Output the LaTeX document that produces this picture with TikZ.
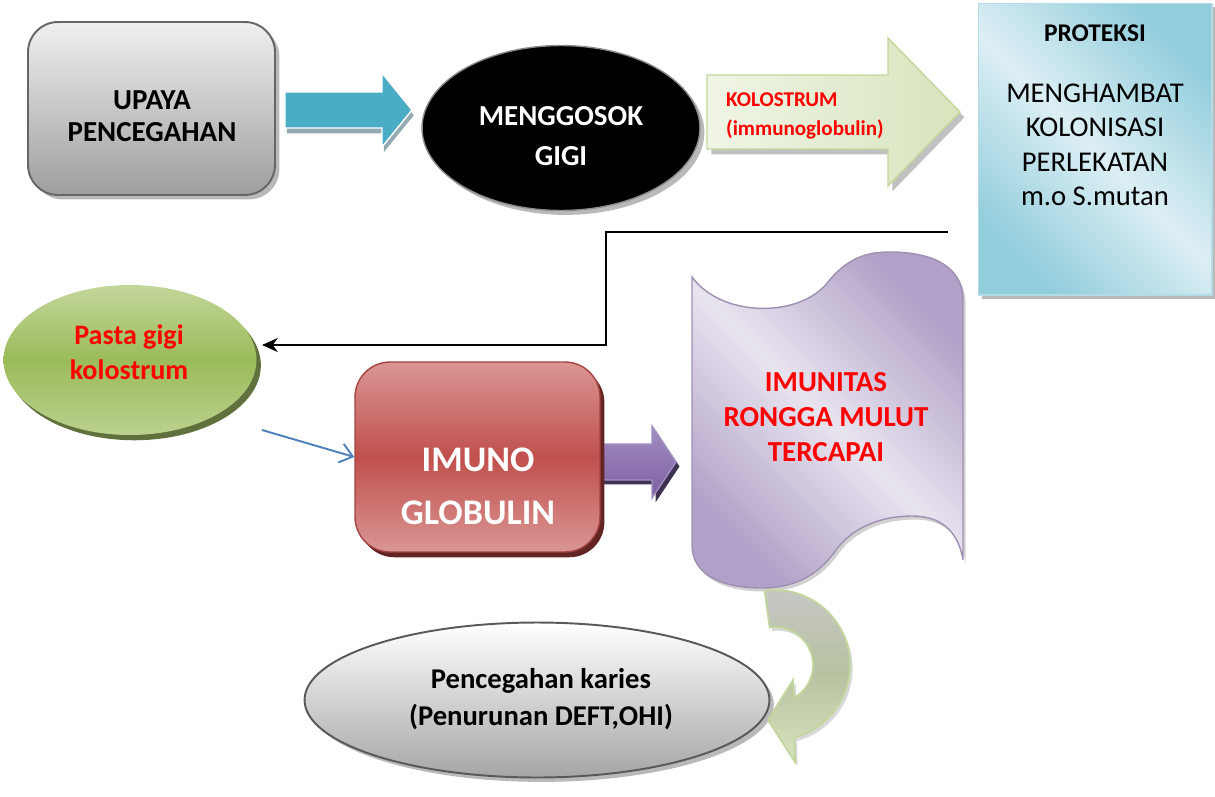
\documentclass[tikz,border=0pt]{standalone}
\usepackage{fontspec}
\setmainfont{Carlito}
\usetikzlibrary{shapes.geometric,shadows,arrows.meta}

\definecolor{tealarr}{HTML}{4BACC6}
\definecolor{tealshd}{HTML}{93AAB3}
\definecolor{grnpale}{HTML}{F0F5E6}
\definecolor{grnlight}{HTML}{D7E4BD}
\definecolor{grnline}{HTML}{C3D69B}
\definecolor{grnmid}{HTML}{9BBB59}
\definecolor{grndark}{HTML}{4F6228}
\definecolor{aqualight}{HTML}{DCEFF4}
\definecolor{aquadark}{HTML}{92CDDC}
\definecolor{redlight}{HTML}{DA9694}
\definecolor{redmid}{HTML}{C0504D}
\definecolor{reddark}{HTML}{632523}
\definecolor{purmid}{HTML}{7D5FA0}
\definecolor{purlight}{HTML}{A28FC2}
\definecolor{purdark}{HTML}{3F3151}
\definecolor{lavlight}{HTML}{E8E4EF}
\definecolor{lavdark}{HTML}{B1A0C7}
\definecolor{linkblue}{HTML}{4F81BD}

\begin{document}
\begin{tikzpicture}[
        x=0.02cm, y=-0.02cm,
        txt/.style     ={font=\bfseries\fontsize{16}{18}\selectfont, align=center},
        shdw/.style    ={drop shadow={shadow xshift=2.5pt, shadow yshift=-2.5pt, fill=black!50, opacity=.55}},
        upbox/.style   ={draw=black!60, line width=1.1pt, rounded corners=0.6cm, top color=black!6, bottom color=black!38, shdw},
        oval/.style    ={ellipse, inner sep=0pt},
        blockarr/.style={line width=0.8pt, line join=miter},
        link/.style    ={-{Stealth[length=9pt,width=8pt]}, line width=1.2pt}
    ]
    \useasboundingbox (0,0) rectangle (1215,796);

    %-----------------  Baris atas  --------------------
    \node[upbox, minimum width=4.94cm, minimum height=3.46cm] (upaya) at (151.5,108.5) {};
    \node[txt, font=\bfseries\fontsize{16.5}{18}\selectfont] (upayatxt) at (152,116) {UPAYA\\PENCEGAHAN};

    % panah biru
    \path[blockarr, draw=white, fill=tealarr, drop shadow={shadow xshift=1pt, shadow yshift=-3pt, fill=tealshd, opacity=1}]
        (285,92) -- (382,92) -- (382,73) -- (412,110) -- (382,147) -- (382,128) -- (285,128) -- cycle;

    \node[oval, fill=black, draw=black!45, line width=0.8pt, shdw, minimum width=5.56cm, minimum height=3.3cm] (gosok) at (561,128) {};
    \node[txt, text=white, font=\bfseries\fontsize{16.5}{22.5}\selectfont] (gosoktxt) at (561,136) {MENGGOSOK\\GIGI};

    % panah hijau berisi teks
    \path[blockarr, draw=grnline, left color=grnpale, right color=grnlight, drop shadow={shadow xshift=2.5pt, shadow yshift=-3pt, fill=black!35, opacity=.7}]
        (707,75) -- (888,75) -- (888,38) -- (960,112) -- (888,186) -- (888,149) -- (707,149) -- cycle;
    \node[font=\bfseries\fontsize{12}{17}\selectfont, text=red, align=left, anchor=north west] (kolos) at (720,86) {KOLOSTRUM\\(immunoglobulin)};

    %-----------------  Kotak proteksi  --------------------
    \node[draw=aquadark!70, line width=0.6pt, shading=axis, top color=aquadark, bottom color=aquadark, middle color=aqualight,
          shading angle=-45, shdw, minimum width=4.68cm, minimum height=5.84cm] (proteksi) at (1095,149) {};
    \node[font=\bfseries\fontsize{14.5}{17}\selectfont] (protitle) at (1095,33) {PROTEKSI};
    \node[font=\fontsize{16.3}{19.6}\selectfont, align=center] (protext) at (1095,145) {MENGHAMBAT\\KOLONISASI\\PERLEKATAN\\m.o S.mutan};

    % garis hitam ke pasta gigi
    \coordinate (lnA) at (948,232);
    \coordinate (lnB) at (262,345);
    \draw[link] (lnA) -| (606,345) -- (lnB);

    %-----------------  Baris tengah  --------------------
    \node[oval, top color=grnline, bottom color=grnline!80!grnmid, middle color=grnmid,
          drop shadow={shadow xshift=2.5pt, shadow yshift=-3pt, fill=grndark, opacity=.9},
          minimum width=5.06cm, minimum height=3.0cm] (pasta) at (130,360) {};
    \node[txt, text=red, font=\bfseries\fontsize{16}{20}\selectfont] (pastatxt) at (129,352) {Pasta gigi\\kolostrum};

    % panah ungu
    \path[blockarr, draw=purlight, top color=purlight, bottom color=purmid, drop shadow={shadow xshift=2pt, shadow yshift=-2.5pt, fill=purdark, opacity=1}]
        (595,444) -- (652,444) -- (652,426) -- (676,462) -- (652,498) -- (652,480) -- (595,480) -- cycle;

    \node[rounded corners=0.7cm, draw=redmid!85!black, line width=0.8pt, top color=redlight, bottom color=redlight, middle color=redmid,
          drop shadow={shadow xshift=2.5pt, shadow yshift=-3pt, fill=reddark, opacity=1},
          minimum width=4.9cm, minimum height=3.8cm] (imuno) at (477.5,457) {};
    \node[txt, text=white, font=\bfseries\fontsize{20.5}{30}\selectfont] (imunotxt) at (478,486) {IMUNO\\GLOBULIN};

    \coordinate (bl) at (262,430);
    \draw[-{Straight Barb[length=7pt,width=11pt]}, linkblue, line width=1.1pt] (bl) -- (imuno.west);

    % bentuk gelombang
    \path[draw=lavdark!90!black, line width=0.8pt, shading=axis, top color=lavdark, bottom color=lavdark, middle color=lavlight, shading angle=-45,
          drop shadow={shadow xshift=1.5pt, shadow yshift=-2pt, fill=black!30, opacity=.6}]
        (692,277) .. controls (722,318) and (800,318) .. (828,282)
        .. controls (848,257) and (868,252) .. (890,252)
        .. controls (935,252) and (963,268) .. (963,300) -- (963,560)
        .. controls (958,530) and (940,516) .. (912,516)
        .. controls (880,516) and (852,528) .. (836,550)
        .. controls (815,580) and (788,588) .. (762,588)
        .. controls (722,588) and (692,575) .. (692,545) -- cycle;
    \node[txt, text=red, font=\bfseries\fontsize{16.5}{20}\selectfont] (imun) at (826,417) {IMUNITAS\\RONGGA MULUT\\TERCAPAI};

    %-----------------  Baris bawah  --------------------
    \node[oval, draw=black!65, line width=1.1pt, top color=white, bottom color=black!35, shdw,
          minimum width=9.3cm, minimum height=3.1cm] (karies) at (537,700) {};
    \node[txt, font=\bfseries\fontsize{16.3}{21}\selectfont] (kariestxt) at (541,699) {Pencegahan karies\\(Penurunan DEFT,OHI)};

    % panah melengkung
    \begin{scope}[shift={(775,665)}, y=0.02cm]
        \path[draw=grnline, line width=1pt, top color=black!22, bottom color=grnlight, middle color=black!15!grnlight,
              drop shadow={shadow xshift=1.5pt, shadow yshift=-2pt, fill=black!30, opacity=.5}]
            (98:75) arc[start angle=98, end angle=-75, radius=75] -- (20,-97) -- (-7,-55) -- (18,-15)
            -- (-60:38) arc[start angle=-60, end angle=98, radius=38] -- cycle;
    \end{scope}
\end{tikzpicture}
\end{document}
